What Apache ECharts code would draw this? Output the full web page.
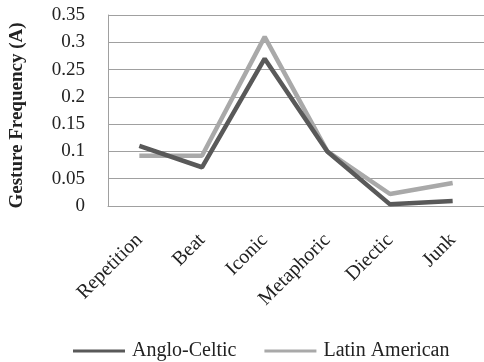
<!DOCTYPE html>
<html>
<head>
<meta charset="utf-8">
<script src="https://cdn.jsdelivr.net/npm/echarts@6/dist/echarts.min.js"></script>
<style>
  html, body { margin: 0; padding: 0; background: #fff; }
  #chart { width: 484px; height: 362px; }
</style>
</head>
<body>
<div id="chart"></div>
<script>
// Gesture categories along the x axis
const categories = ['Repetition', 'Beat', 'Iconic', 'Metaphoric', 'Diectic', 'Junk'];
// Gesture frequency per group
const angloCeltic = [0.11, 0.071, 0.27, 0.10, 0.003, 0.009];
const latinAmerican = [0.092, 0.092, 0.31, 0.10, 0.022, 0.042];
// Y axis range
const yMin = 0, yMax = 0.35, yStep = 0.05;

const serif = '"Liberation Serif", "Times New Roman", serif';
const chart = echarts.init(document.getElementById('chart'), null, { renderer: 'canvas' });

chart.setOption({
  animation: false,
  backgroundColor: '#ffffff',
  textStyle: { fontFamily: serif },
  grid: { left: 107, top: 15, width: 405, height: 191, containLabel: false },
  legend: {
    top: 341,
    left: 73,
    padding: 0,
    icon: 'rect',
    itemWidth: 52,
    itemHeight: 3,
    itemGap: 28,
    textStyle: { fontFamily: serif, fontSize: 20, color: '#222', padding: [0, 0, 0, 2] },
    data: ['Anglo-Celtic', 'Latin American']
  },
  xAxis: {
    type: 'category',
    data: categories,
    boundaryGap: true,
    axisLine: { show: true, lineStyle: { color: '#a0a0a0', width: 1 } },
    axisTick: { show: false },
    axisLabel: { rotate: 45, margin: 31, fontFamily: serif, fontSize: 20, color: '#222' }
  },
  yAxis: {
    type: 'value',
    min: yMin,
    max: yMax,
    interval: yStep,
    name: 'Gesture Frequency (A)',
    nameLocation: 'middle',
    nameGap: 81,
    nameTextStyle: { fontFamily: serif, fontSize: 19, fontWeight: 'bold', color: '#222', padding: [0, 10, 0, 0] },
    axisLine: { show: true, lineStyle: { color: '#a0a0a0', width: 1 } },
    axisTick: { show: false },
    splitLine: { show: true, lineStyle: { color: '#a0a0a0', width: 1 } },
    axisLabel: {
      margin: 23,
      fontFamily: serif,
      fontSize: 19,
      color: '#222',
      formatter: v => String(parseFloat(v.toFixed(2)))
    }
  },
  series: [
    {
      name: 'Anglo-Celtic',
      type: 'line',
      data: angloCeltic,
      symbol: 'none',
      color: '#595959',
      lineStyle: { color: '#595959', width: 4.5 },
      z: 3
    },
    {
      name: 'Latin American',
      type: 'line',
      data: latinAmerican,
      symbol: 'none',
      color: '#a9a9a9',
      lineStyle: { color: '#a9a9a9', width: 4.5 },
      z: 2
    }
  ]
});
</script>
</body>
</html>
